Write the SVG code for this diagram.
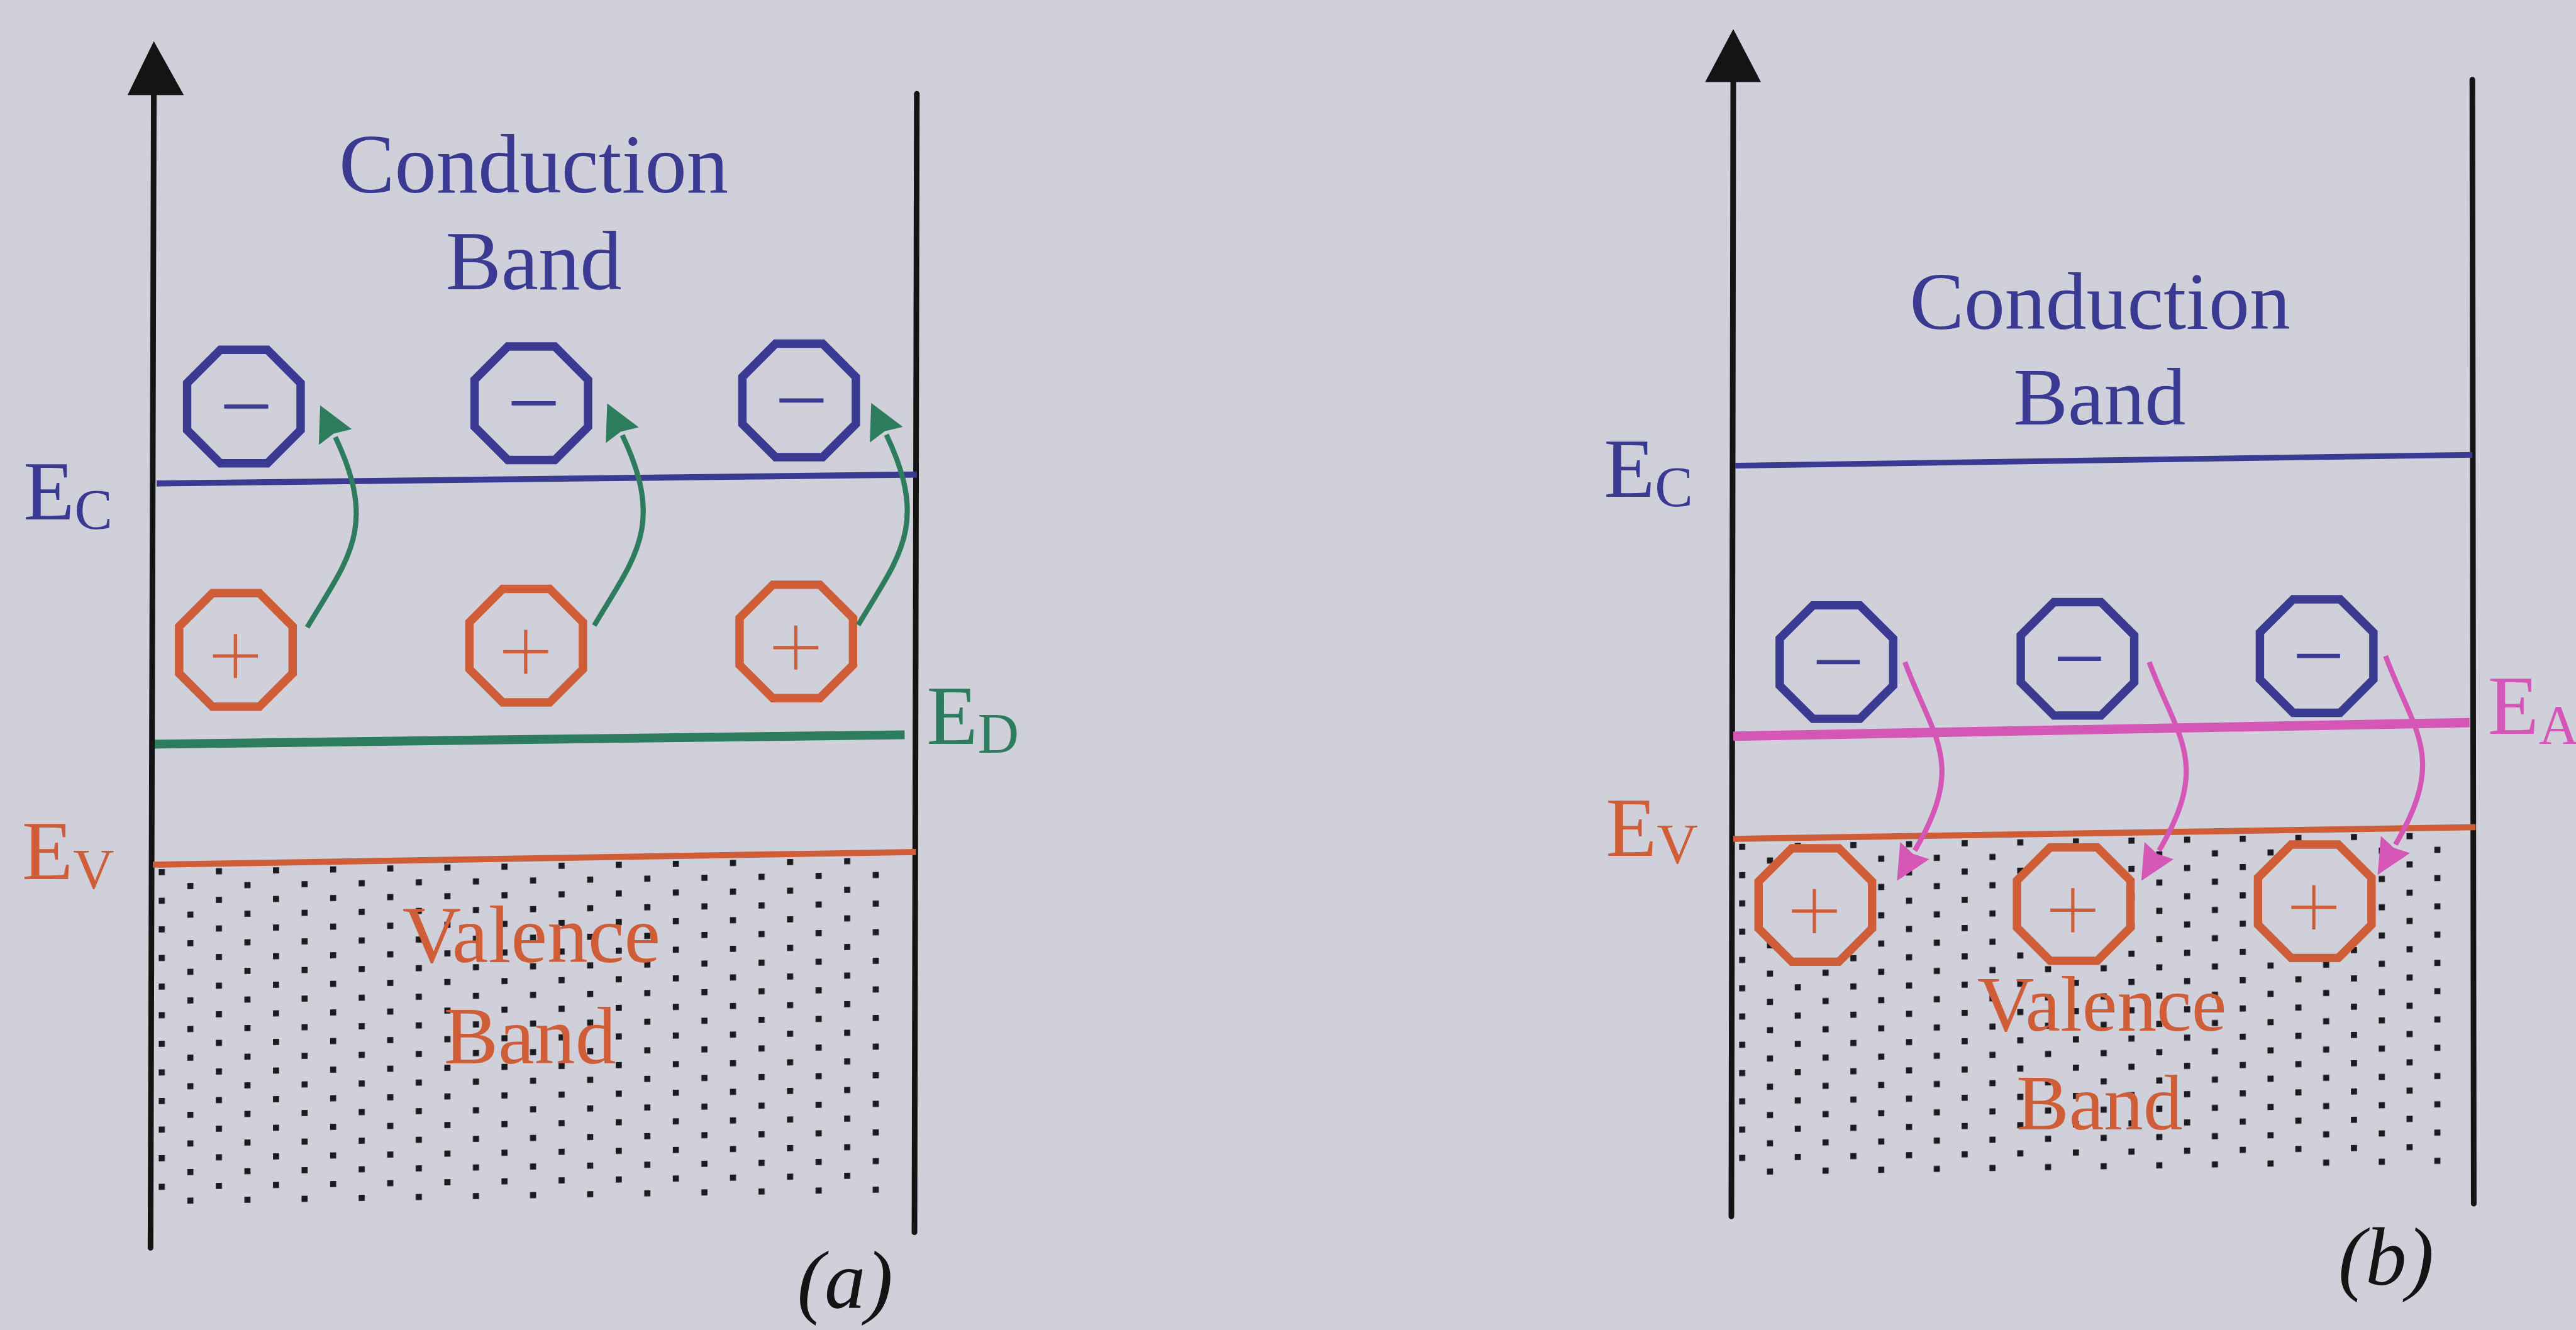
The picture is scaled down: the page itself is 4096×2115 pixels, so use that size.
<svg xmlns="http://www.w3.org/2000/svg" xmlns:xlink="http://www.w3.org/1999/xlink" width="4096" height="2115" viewBox="0 0 4096 2115">
<style>
.ax{stroke:#141414;stroke-width:12;stroke-linecap:round;fill:none}
.ahd{fill:#141414}
.blue{stroke:#3b3a92}
.org{stroke:#cf5e38}
.grn{stroke:#2e7c5e}
.pnk{stroke:#d456b7}
.lvl{fill:none;stroke-linecap:butt}
.neg{fill:#d0d0db;stroke:#3b3a92;stroke-width:18}
.pos{fill:#d0d0db;stroke:#cf5e38;stroke-width:18}
.sgnN{stroke:#3b3a92;stroke-width:9}
.sgnP{stroke:#cf5e38;stroke-width:7}
.arrG{fill:none;stroke:#2e7c5e;stroke-width:11;marker-end:url(#headG)}
.arrP{fill:none;stroke:#d456b7;stroke-width:11;marker-end:url(#headP)}
.t{font-family:"Liberation Serif","Times New Roman",serif}
.tb{fill:#3b3a92}
.to{fill:#cf5e38}
.tg{fill:#2e7c5e}
.tp{fill:#d456b7}
.tk{fill:#141414;font-style:italic}
</style>
<defs>
<polygon id="oct" points="121,-50.1 121,50.1 50.1,121 -50.1,121 -121,50.1 -121,-50.1 -50.1,-121 50.1,-121"/>
<marker id="headG" markerUnits="userSpaceOnUse" markerWidth="80" markerHeight="84" viewBox="0 -42 80 84" refX="0" refY="0" orient="auto">
<path d="M0,-39 L75,0 L0,39 L8,0 Z" fill="#2e7c5e"/>
</marker>
<marker id="headP" markerUnits="userSpaceOnUse" markerWidth="80" markerHeight="84" viewBox="0 -42 80 84" refX="0" refY="0" orient="auto">
<path d="M0,-36 L75,0 L0,36 L8,0 Z" fill="#d456b7"/>
</marker>
<pattern id="dotsA" patternUnits="userSpaceOnUse" x="338.5" y="1859.04" width="121.8" height="61" patternTransform="skewY(-0.92)">
<rect x="0" y="0" width="13" height="13" fill="#1b1b1f"/>
<rect x="60.9" y="30.5" width="13" height="13" fill="#1b1b1f"/>
</pattern>
<pattern id="dotsB" patternUnits="userSpaceOnUse" x="3708.5" y="1859.16" width="118.6" height="60.3" patternTransform="skewY(-0.92)">
<rect x="0" y="0" width="13" height="13" fill="#1b1b1f"/>
<rect x="59.3" y="30.15" width="13" height="13" fill="#1b1b1f"/>
</pattern>
</defs>
<rect x="0" y="0" width="4096" height="2115" fill="#d0d0db"/>
<g transform="scale(0.745672)">
<g id="panel-a">
<path id="a-valence-dots" d="M336,1850 L1882,1825 L1882,2550 L336,2575 Z" fill="url(#dotsA)"/>
<g id="a-axis">
<line class="ax" x1="321" y1="2661" x2="328" y2="190"/>
<polygon class="ahd" points="328,88 392,203 272,203"/>
</g>
<line id="a-wall" class="ax" x1="1950" y1="2628" x2="1955" y2="200"/>
<line id="a-Ec" class="lvl blue" stroke-width="13" x1="334" y1="1031" x2="1955" y2="1012"/>
<line id="a-Ed" class="lvl grn" stroke-width="19" x1="330" y1="1587" x2="1929" y2="1567"/>
<line id="a-Ev" class="lvl org" stroke-width="13" x1="326" y1="1844" x2="1953" y2="1817"/>
<g id="a-n1"><use xlink:href="#oct" href="#oct" class="neg" transform="translate(520,867)"/><line class="sgnN" x1="478" y1="867" x2="572" y2="867"/></g>
<g id="a-n2"><use xlink:href="#oct" href="#oct" class="neg" transform="translate(1133,860)"/><line class="sgnN" x1="1091" y1="860" x2="1185" y2="860"/></g>
<g id="a-n3"><use xlink:href="#oct" href="#oct" class="neg" transform="translate(1704,854)"/><line class="sgnN" x1="1662" y1="854" x2="1756" y2="854"/></g>
<g id="a-p1"><use xlink:href="#oct" href="#oct" class="pos" transform="translate(503,1386)"/><path class="sgnP" d="M454,1399 H550 M502,1352 V1446"/></g>
<g id="a-p2"><use xlink:href="#oct" href="#oct" class="pos" transform="translate(1122,1377)"/><path class="sgnP" d="M1073,1390 H1169 M1121,1343 V1437"/></g>
<g id="a-p3"><use xlink:href="#oct" href="#oct" class="pos" transform="translate(1698,1368)"/><path class="sgnP" d="M1649,1381 H1745 M1697,1334 V1428"/></g>
<g id="a-labels" class="t">
<text class="t tb" x="1138" y="410" font-size="178" text-anchor="middle">Conduction</text>
<text class="t tb" x="1138" y="617" font-size="178" text-anchor="middle">Band</text>
<text class="t to" x="1133" y="2052" font-size="174" text-anchor="middle">Valence</text>
<text class="t to" x="1130" y="2268" font-size="174" text-anchor="middle">Band</text>
<text class="t tb" x="50" y="1108" font-size="178">E<tspan font-size="122" dy="20">C</tspan></text>
<text class="t to" x="47" y="1875" font-size="178">E<tspan font-size="122" dy="20">V</tspan></text>
<text class="t tg" x="1976" y="1587" font-size="178">E<tspan font-size="122" dy="18">D</tspan></text>
<text class="t tk" x="1802" y="2790" font-size="175" text-anchor="middle">(a)</text>
</g>
</g>
<g id="panel-b">
<path id="b-valence-dots" d="M3706,1797 L5208,1773 L5208,2488 L3706,2512 Z" fill="url(#dotsB)"/>
<g id="b-axis">
<line class="ax" x1="3692" y1="2594" x2="3696" y2="165"/>
<polygon class="ahd" points="3696,62 3755,175 3636,175"/>
</g>
<line id="b-wall" class="ax" x1="5275" y1="2567" x2="5272" y2="170"/>
<line id="b-Ec" class="lvl blue" stroke-width="12" x1="3700" y1="993" x2="5272" y2="970"/>
<line id="b-Ea" class="lvl pnk" stroke-width="20" x1="3696" y1="1570" x2="5266" y2="1541"/>
<line id="b-Ev" class="lvl org" stroke-width="13" x1="3696" y1="1789" x2="5279" y2="1764"/>
<g id="b-n1"><use xlink:href="#oct" href="#oct" class="neg" transform="translate(3916,1412)"/><line class="sgnN" x1="3874" y1="1412" x2="3966" y2="1412"/></g>
<g id="b-n2"><use xlink:href="#oct" href="#oct" class="neg" transform="translate(4430,1405)"/><line class="sgnN" x1="4388" y1="1405" x2="4480" y2="1405"/></g>
<g id="b-n3"><use xlink:href="#oct" href="#oct" class="neg" transform="translate(4940,1399)"/><line class="sgnN" x1="4898" y1="1399" x2="4990" y2="1399"/></g>
<g id="b-p1"><use xlink:href="#oct" href="#oct" class="pos" transform="translate(3871,1930)"/><path class="sgnP" d="M3821,1943 H3917 M3869,1896 V1990"/></g>
<g id="b-p2"><use xlink:href="#oct" href="#oct" class="pos" transform="translate(4422,1928)"/><path class="sgnP" d="M4372,1941 H4468 M4420,1894 V1988"/></g>
<g id="b-p3"><use xlink:href="#oct" href="#oct" class="pos" transform="translate(4936,1922)"/><path class="sgnP" d="M4886,1935 H4982 M4934,1888 V1982"/></g>
<g id="b-labels">
<text class="t tb" x="4478" y="701" font-size="174" text-anchor="middle">Conduction</text>
<text class="t tb" x="4477" y="905" font-size="174" text-anchor="middle">Band</text>
<text class="t to" x="4482" y="2198" font-size="168" text-anchor="middle">Valence</text>
<text class="t to" x="4477" y="2408" font-size="168" text-anchor="middle">Band</text>
<text class="t tb" x="3420" y="1060" font-size="178">E<tspan font-size="122" dy="20">C</tspan></text>
<text class="t to" x="3424" y="1825" font-size="178">E<tspan font-size="122" dy="16">V</tspan></text>
<text class="t tp" x="5305" y="1565" font-size="178">E<tspan font-size="118" dy="20">A</tspan></text>
<text class="t tk" x="5088" y="2740" font-size="175" text-anchor="middle">(b)</text>
</g>
</g>
<g id="connectors">
<path class="arrG" d="M655,1338 C740,1194 808,1127 715,932"/>
<path class="arrG" d="M1267,1334 C1352,1190 1420,1123 1327,928"/>
<path class="arrG" d="M1830,1333 C1915,1189 1983,1122 1890,927"/>
<path class="arrP" d="M4062,1412 C4122,1575 4194,1625 4083,1814"/>
<path class="arrP" d="M4583,1412 C4643,1575 4715,1625 4604,1814"/>
<path class="arrP" d="M5087,1399 C5147,1562 5219,1612 5108,1801"/>
</g>
</g>
</svg>
